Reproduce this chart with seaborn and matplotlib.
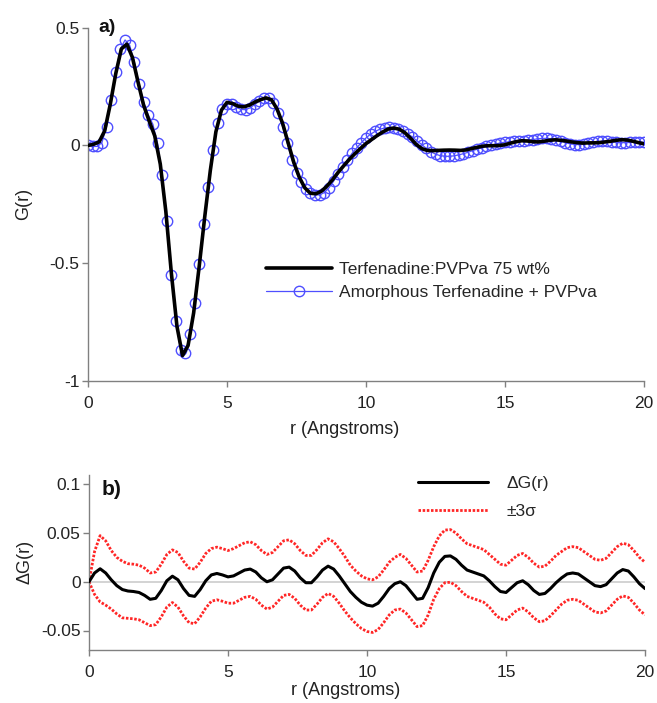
import numpy as np
import pandas as pd
import matplotlib
matplotlib.use("Agg")
import matplotlib.pyplot as plt
import seaborn as sns
from matplotlib.ticker import FuncFormatter

# ---------------- data ----------------
# Panel a: amorphous Terfenadine + PVPva (circles), grid of 1/6 Angstrom
r_blue = np.round(np.arange(121) / 6.0, 4)
g_blue = [0.000, -0.004, -0.004, 0.012, 0.080, 0.195, 0.310, 0.410, 0.448, 0.425,
          0.355, 0.262, 0.185, 0.130, 0.090, 0.010, -0.125, -0.320, -0.550, -0.745,
          -0.870, -0.880, -0.800, -0.670, -0.505, -0.335, -0.175, -0.020, 0.095, 0.155,
          0.178, 0.175, 0.162, 0.153, 0.152, 0.160, 0.174, 0.188, 0.200, 0.203,
          0.180, 0.138, 0.080, 0.010, -0.060, -0.115, -0.155, -0.185, -0.202, -0.210,
          -0.210, -0.200, -0.180, -0.152, -0.120, -0.090, -0.060, -0.033, -0.010, 0.012,
          0.032, 0.048, 0.060, 0.069, 0.074, 0.077, 0.076, 0.071, 0.062, 0.050,
          0.036, 0.020, 0.004, -0.012, -0.026, -0.037, -0.043, -0.046, -0.046, -0.044,
          -0.040, -0.035, -0.029, -0.022, -0.016, -0.010, -0.004, 0.001, 0.006, 0.011,
          0.014, 0.016, 0.017, 0.018, 0.020, 0.022, 0.025, 0.028, 0.030, 0.030,
          0.028, 0.024, 0.018, 0.012, 0.007, 0.004, 0.004, 0.007, 0.011, 0.015,
          0.017, 0.018, 0.017, 0.015, 0.013, 0.012, 0.012, 0.013, 0.014, 0.014,
          0.014]

# Panel a: Terfenadine:PVPva 75 wt% (black line), 0.2 Angstrom grid
r_line = np.round(np.arange(101) * 0.2, 2)
g_black = [0.000, 0.005, 0.015, 0.062, 0.174, 0.306, 0.410, 0.430, 0.373, 0.269,
           0.171, 0.104, 0.041, -0.079, -0.280, -0.544, -0.768, -0.892, -0.849, -0.711,
           -0.513, -0.302, -0.106, 0.058, 0.150, 0.183, 0.178, 0.167, 0.164, 0.171,
           0.184, 0.194, 0.202, 0.194, 0.155, 0.094, 0.011, -0.071, -0.135, -0.180,
           -0.203, -0.205, -0.194, -0.172, -0.145, -0.114, -0.086, -0.059, -0.035, -0.013,
           0.008, 0.025, 0.042, 0.057, 0.070, 0.074, 0.069, 0.054, 0.031, 0.005,
           -0.013, -0.021, -0.022, -0.021, -0.020, -0.0195, -0.020, -0.021, -0.019, -0.013,
           -0.008, -0.003, -0.001, -0.001, 0.000, 0.003, 0.010, 0.016, 0.020, 0.019,
           0.016, 0.015, 0.018, 0.022, 0.024, 0.022, 0.019, 0.015, 0.012, 0.010,
           0.011, 0.011, 0.012, 0.015, 0.018, 0.022, 0.0245, 0.023, 0.018, 0.012,
           0.007]

# Panel b: difference curve and its 3-sigma half width, 0.2 Angstrom grid
dG = [0.000, 0.009, 0.0133, 0.009, 0.002, -0.004, -0.008, -0.0095, -0.010, -0.011,
      -0.014, -0.018, -0.017, -0.009, 0.001, 0.0057, 0.002, -0.007, -0.014, -0.015,
      -0.008, 0.001, 0.007, 0.0085, 0.007, 0.005, 0.006, 0.009, 0.012, 0.013,
      0.010, 0.004, 0.000, 0.002, 0.008, 0.014, 0.015, 0.011, 0.004, -0.001,
      -0.001, 0.005, 0.012, 0.016, 0.013, 0.006, -0.002, -0.010, -0.016, -0.021,
      -0.024, -0.025, -0.022, -0.015, -0.007, -0.002, 0.000, -0.004, -0.011, -0.018,
      -0.017, -0.006, 0.009, 0.020, 0.026, 0.0265, 0.023, 0.017, 0.012, 0.010,
      0.008, 0.006, 0.001, -0.005, -0.010, -0.011, -0.006, -0.001, 0.001, -0.003,
      -0.009, -0.013, -0.012, -0.007, -0.001, 0.004, 0.008, 0.009, 0.008, 0.004,
      0.000, -0.004, -0.005, -0.003, 0.003, 0.009, 0.0125, 0.011, 0.005, -0.002,
      -0.007]
sigma3 = [0.000, 0.022, 0.034, 0.033, 0.030, 0.029, 0.029, 0.028, 0.028, 0.028,
          0.028, 0.027, 0.027, 0.027, 0.027, 0.027, 0.028, 0.028, 0.028, 0.028,
          0.028, 0.028, 0.027, 0.027, 0.027, 0.027, 0.028, 0.028, 0.028, 0.028,
          0.028, 0.028, 0.028, 0.028, 0.028, 0.028, 0.028, 0.028, 0.028, 0.028,
          0.028, 0.028, 0.028, 0.028, 0.028, 0.028, 0.028, 0.027, 0.027, 0.027,
          0.027, 0.027, 0.027, 0.027, 0.027, 0.027, 0.028, 0.028, 0.028, 0.028,
          0.028, 0.028, 0.027, 0.027, 0.027, 0.027, 0.027, 0.027, 0.027, 0.027,
          0.027, 0.027, 0.027, 0.028, 0.028, 0.028, 0.028, 0.028, 0.028, 0.028,
          0.028, 0.028, 0.028, 0.028, 0.028, 0.027, 0.027, 0.027, 0.027, 0.027,
          0.027, 0.027, 0.027, 0.027, 0.027, 0.027, 0.027, 0.027, 0.027, 0.027,
          0.027]

xticks = [0, 5, 10, 15, 20]
yticks_a = [-1, -0.5, 0, 0.5]
yticks_b = [-0.05, 0, 0.05, 0.1]

# ---------------- style ----------------
sns.set_theme(style="white")
plt.rcParams["font.family"] = ["Liberation Sans", "DejaVu Sans"]
plt.rcParams["axes.unicode_minus"] = False
FS = 12.5
SPINE = "#808080"

fig = plt.figure(figsize=(6.57, 7.03), dpi=100)
W, H = 657.0, 703.0
axa = fig.add_axes([88 / W, 1 - 381 / H, 556 / W, (381 - 27.7) / H])
axb = fig.add_axes([89 / W, 1 - 650 / H, 556 / W, (650 - 474.5) / H])

fmt = FuncFormatter(lambda v, p: "%g" % v)

for ax in (axa, axb):
    for s in ("top", "right"):
        ax.spines[s].set_visible(False)
    for s in ("left", "bottom"):
        ax.spines[s].set_color(SPINE)
        ax.spines[s].set_linewidth(1.0)
    ax.tick_params(axis="both", which="major", direction="out", length=4,
                   width=1.0, color=SPINE, labelsize=FS, pad=2,
                   bottom=True, left=True, labelcolor="#222222")
    ax.tick_params(axis="x", pad=7)
    ax.xaxis.set_major_formatter(fmt)
    ax.yaxis.set_major_formatter(fmt)
    ax.set_xlim(0, 20)
    ax.set_xticks(xticks)
    ax.grid(False)

# ---------------- panel a ----------------
blue = "#4f4fff"
df_blue = pd.DataFrame({"r": r_blue, "G": g_blue})
df_black = pd.DataFrame({"r": r_line, "G": g_black})
sns.lineplot(data=df_blue, x="r", y="G", ax=axa, color=blue, linewidth=0.9,
             marker="o", markersize=7.5, markerfacecolor="none",
             markeredgecolor=blue, markeredgewidth=1.0, zorder=2)
sns.lineplot(data=df_black, x="r", y="G", ax=axa, color="black", linewidth=2.6,
             zorder=3)
axa.set_ylim(-1, 0.5)
axa.set_yticks(yticks_a)
axa.set_ylabel("G(r)", fontsize=FS + 0.5, color="#222222")
axa.set_xlabel("r (Angstroms)", fontsize=FS + 0.5, color="#222222")
axa.yaxis.set_label_coords(-0.10, 0.5)
axa.xaxis.set_label_coords(0.462, -0.113)
axa.text(0.018, 1.0, "a)", transform=axa.transAxes, fontsize=14,
         fontweight="bold", va="center", ha="left", color="#111111")

h_black = plt.Line2D([], [], color="black", lw=2.6)
h_blue = plt.Line2D([], [], color=blue, lw=0.9, marker="o", markersize=7.5,
                    markerfacecolor="none", markeredgecolor=blue)
axa.legend([h_black, h_blue],
           ["Terfenadine:PVPva 75 wt%", "Amorphous Terfenadine + PVPva"],
           loc="upper left", bbox_to_anchor=(0.32, 0.337), frameon=False,
           fontsize=FS, handlelength=3.8, handletextpad=0.4, labelspacing=0.45,
           borderpad=0.0, borderaxespad=0.0)

# ---------------- panel b ----------------
dG_a = np.array(dG)
s_a = np.array(sigma3)
df_b = pd.DataFrame({"r": r_line, "dG": dG_a, "up": dG_a + s_a, "lo": dG_a - s_a})
axb.axhline(0, color="#cccccc", lw=1.2, zorder=1)
red = "#ff2626"
sns.lineplot(data=df_b, x="r", y="up", ax=axb, color=red, linewidth=2.0,
             linestyle=(0, (0.9, 0.6)), zorder=2)
sns.lineplot(data=df_b, x="r", y="lo", ax=axb, color=red, linewidth=2.0,
             linestyle=(0, (0.9, 0.6)), zorder=2)
sns.lineplot(data=df_b, x="r", y="dG", ax=axb, color="black", linewidth=2.2,
             zorder=3)
axb.set_ylim(-0.07, 0.11)
axb.set_yticks(yticks_b)
axb.set_ylabel("\u0394G(r)", fontsize=FS + 0.5, color="#222222")
axb.set_xlabel("r (Angstroms)", fontsize=FS + 0.5, color="#222222")
axb.yaxis.set_label_coords(-0.10, 0.5)
axb.xaxis.set_label_coords(0.462, -0.185)
axb.text(0.023, 0.912, "b)", transform=axb.transAxes, fontsize=15,
         fontweight="bold", va="center", ha="left", color="#111111")

hb1 = plt.Line2D([], [], color="black", lw=2.2)
hb2 = plt.Line2D([], [], color=red, lw=2.0, linestyle=(0, (0.9, 0.6)))
axb.legend([hb1, hb2], ["\u0394G(r)", "\u00b13\u03c3"],
           loc="upper left", bbox_to_anchor=(0.592, 0.99), frameon=False,
           fontsize=FS, handlelength=4.0, handletextpad=1.1, labelspacing=0.7,
           borderpad=0.0, borderaxespad=0.0)

fig.savefig("out.png", dpi=100)
